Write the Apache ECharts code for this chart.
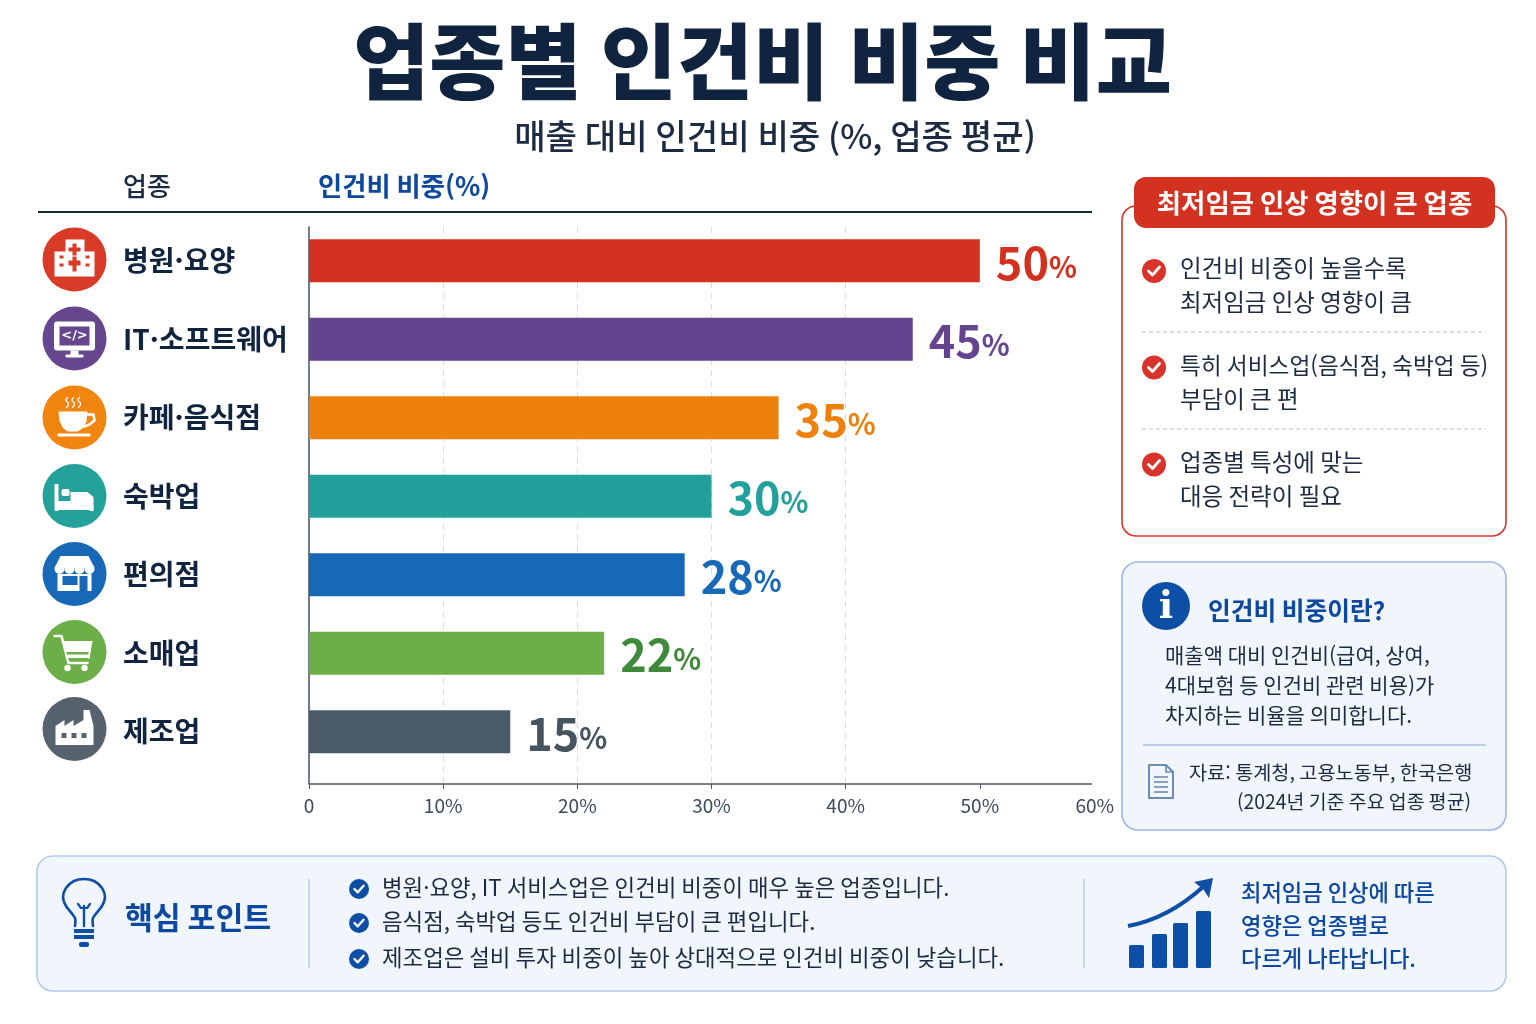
<!DOCTYPE html>
<html lang="ko">
<head>
<meta charset="utf-8">
<style>html,body{margin:0;padding:0;background:#fff}#c{width:1536px;height:1024px}</style>
<script src="https://cdn.jsdelivr.net/npm/echarts@6/dist/echarts.min.js"></script>
</head>
<body>
<div id="c"></div>
<script>
const categories = ['병원·요양', 'IT·소프트웨어', '카페·음식점', '숙박업', '편의점', '소매업', '제조업'];
const shares = [50, 45, 35, 30, 28, 22, 15];
const barColors = ['#d3311f', '#64438f', '#ee800c', '#22a09c', '#1769b8', '#6cae47', '#4a5a69'];
const labelColors = ['#d3311f', '#64438f', '#ee800c', '#22a09c', '#1769b8', '#3f8a3a', '#46545f'];
const iconColors = ['#da3a28', '#66468f', '#f0860f', '#25a19c', '#1769b8', '#6cae47', '#56636f'];
const xTicks = [0, 10, 20, 30, 40, 50, 60];
const titleText = '업종별 인건비 비중 비교';
const subtitleText = '매출 대비 인건비 비중 (%, 업종 평균)';
const redHeader = '최저임금 인상 영향이 큰 업종';
const redItems = [['인건비 비중이 높을수록', '최저임금 인상 영향이 큼'], ['특히 서비스업(음식점, 숙박업 등)', '부담이 큰 편'], ['업종별 특성에 맞는', '대응 전략이 필요']];
const infoTitle = '인건비 비중이란?';
const infoLines = ['매출액 대비 인건비(급여, 상여,', '4대보험 등 인건비 관련 비용)가', '차지하는 비율을 의미합니다.'];
const sourceLines = ['자료: 통계청, 고용노동부, 한국은행', '(2024년 기준 주요 업종 평균)'];
const keyTitle = '핵심 포인트';
const keyLines = ['병원·요양, IT 서비스업은 인건비 비중이 매우 높은 업종입니다.', '음식점, 숙박업 등도 인건비 부담이 큰 편입니다.', '제조업은 설비 투자 비중이 높아 상대적으로 인건비 비중이 낮습니다.'];
const sideLines = ['최저임금 인상에 따른', '영향은 업종별로', '다르게 나타납니다.'];
const trendBars = [23, 34, 45, 57];

const FF = '"Noto Sans CJK KR","Noto Sans",sans-serif';
const NAVY = '#10233f', BLUE = '#0c48a0', INK = '#1c2a42';
const els = [];
function T(text, x, y, size, color, weight, align, family) {
  els.push({type: 'text', x, y, silent: true, style: {text, fontSize: size, fontFamily: family || FF, fontWeight: weight || 400, fill: color, align: align || 'left', verticalAlign: 'middle'}});
}
function R(x, y, w, h, r, fill, stroke, lw) {
  els.push({type: 'rect', silent: true, shape: {x, y, width: w, height: h, r: r || 0}, style: {fill: fill || 'none', stroke: stroke || 'none', lineWidth: lw || 1}});
}
function C(cx, cy, r, fill, stroke, lw) {
  els.push({type: 'circle', silent: true, shape: {cx, cy, r}, style: {fill: fill || 'none', stroke: stroke || 'none', lineWidth: lw || 1}});
}
function L(x1, y1, x2, y2, color, lw, dash) {
  els.push({type: 'line', silent: true, shape: {x1, y1, x2, y2}, style: {stroke: color, lineWidth: lw || 1, lineDash: dash || null}});
}
function PG(pts, fill) { els.push({type: 'polygon', silent: true, shape: {points: pts}, style: {fill}}); }
function PL(pts, color, lw, smooth) { els.push({type: 'polyline', silent: true, shape: {points: pts, smooth: smooth || 0}, style: {stroke: color, lineWidth: lw, fill: 'none', lineCap: 'round', lineJoin: 'round'}}); }
function shift(cx, cy, pts) { return pts.map(p => [cx + p[0], cy + p[1]]); }
function check(cx, cy, r, color) {
  C(cx, cy, r, color);
  const k = r / 12;
  PL(shift(cx, cy, [[-5.5 * k, 0], [-1.5 * k, 4 * k], [5.5 * k, -4 * k]]), '#fff', 2.8 * k);
}

/* titles and table header */
T(titleText, 762.5, 62, 82.8, NAVY, 900, 'center');
T(subtitleText, 775, 136, 34.2, INK, 500, 'center');
T('업종', 123, 186, 26, INK, 500);
T('인건비 비중(%)', 318, 186, 26.3, BLUE, 700);
L(38, 212, 1092, 212, '#16263f', 2);
L(309, 784, 1092, 784, '#4d5a6b', 1.6);

/* category icons */
const iconY = [259.5, 338.5, 417.5, 496, 574, 652, 729];
iconY.forEach((y, i) => C(74.5, y, 32, iconColors[i]));
(function () {
  const W = '#fff';
  let x = 74.5, y = iconY[0], c = iconColors[0];
  R(x - 20, y - 8, 40, 25, 0, W); R(x - 9, y - 20, 19, 14, 0, W);
  R(x - 2, y - 16, 4, 12, 0, c); R(x - 6, y - 12, 12, 4, 0, c);
  R(x - 2, y - 3, 4, 15, 0, c); R(x - 6, y + 1, 12, 5, 0, c);
  [-15, 11].forEach(d => { R(x + d, y - 4, 4, 3, 0, c); R(x + d, y + 4, 4, 3, 0, c); });

  y = iconY[1]; c = iconColors[1];
  R(x - 20.5, y - 17, 41, 29, 3, W); R(x - 15, y - 12, 30, 19, 0, c);
  R(x - 4, y + 12, 8, 5, 0, W); R(x - 9, y + 16, 18, 3, 1, W);
  T('</>', x, y - 3, 13, W, 700, 'center', 'DejaVu Sans');

  y = iconY[2];
  PG(shift(x, y, [[-16, -6], [13, -6], [12, 4], [8, 11], [3, 14], [-7, 14], [-12, 10], [-15, 3]]), W);
  PL(shift(x, y, [[13, -3], [19, -3], [20, 3], [15, 7], [10, 9]]), W, 2.6);
  R(x - 17, y + 16, 33, 3, 1, W);
  [-7, -1, 5].forEach(d => PL(shift(x + d, y, [[0, -20], [-1.5, -17], [1, -14], [-1, -10]]), W, 1.3, 0.6));

  y = iconY[3];
  R(x - 20, y - 12, 4, 27, 1, W); R(x - 17, y + 5, 36, 9, 1, W);
  R(x + 15, y + 9, 4, 6, 0, W);
  R(x - 13, y - 7, 8, 7, 2, W);
  PG(shift(x, y, [[-4, -4], [13, -4], [19, 1], [19, 6], [-4, 6]]), W);

  y = iconY[4]; c = iconColors[4];
  R(x - 17, y, 34, 17, 0, W);
  R(x - 12, y + 2, 15, 9, 0, c);
  R(x + 5, y + 2, 8, 15, 0, c);
  PG(shift(x, y, [[-14, -18], [14, -18], [20, -6], [-20, -6]]), W);
  [-15, -5, 5, 15].forEach(d => C(x + d, y - 5, 5, W));

  y = iconY[5];
  PL(shift(x, y, [[-20, -16], [-13, -16], [-6, 11], [13, 11]]), W, 2.6);
  PG(shift(x, y, [[-11, -11], [18, -11], [15, 7], [-7, 7]]), W);
  R(x - 6, y + 6, 20, 2, 0, iconColors[5]);
  R(x - 8, y + 0, 22, 2.5, 0, iconColors[5]);
  C(x - 7, y + 16, 3.2, W); C(x + 10, y + 16, 3.2, W);

  y = iconY[6]; c = iconColors[6];
  PG(shift(x, y, [[-19, -3], [-10, -9], [-10, -3], [-1, -9], [-1, -3], [9, -9], [9, -19], [15, -19], [19, -3], [19, 16], [-19, 16]]), W);
  [-13, -3, 7].forEach(d => R(x + d, y + 4, 5, 5, 0, c));
})();

/* red panel */
R(1122, 206, 384, 330, 14, '#fff', '#d9352a', 1.6);
R(1134, 177, 361, 51, 12, '#d2321f');
T(redHeader, 1314.5, 203, 26.4, '#fff', 700, 'center');
const redY = [[268, 302], [365, 399], [462, 496]];
const redCheck = [271, 367.5, 464.5];
redItems.forEach((lines, i) => {
  check(1154, redCheck[i], 12, '#d9342b');
  lines.forEach((t, j) => T(t, 1180, redY[i][j], t.length > 16 ? 22.7 : 23.5, INK, 400));
});
L(1142, 332, 1486, 332, '#bdbdbd', 1, [4, 3]);
L(1142, 429, 1486, 429, '#bdbdbd', 1, [4, 3]);

/* info panel */
R(1122, 562, 384, 268, 16, '#f1f5fc', '#9db8e2', 1.6);
C(1166, 606, 24, '#0d4ea6');
T('i', 1166, 608, 38, '#fff', 700, 'center', '"DejaVu Serif"');
T(infoTitle, 1208, 611, 24.7, BLUE, 700);
[655, 685, 715].forEach((y, i) => T(infoLines[i], 1165, y, 21, INK, 400));
L(1143, 745, 1486, 745, '#a9c1e6', 1.4);
PL([[1150, 765], [1166, 765], [1173, 772], [1173, 798], [1149, 798], [1149, 765]], '#6d8ab0', 2);
PL([[1166, 765], [1166, 772], [1173, 772]], '#6d8ab0', 1.6);
[777, 782, 787, 792].forEach(y => L(1154, y, 1168, y, '#6d8ab0', 1.6));
T(sourceLines[0], 1189, 773, 19.7, INK, 400);
T(sourceLines[1], 1237, 802, 19.4, INK, 400);

/* bottom panel */
R(37, 856, 1469, 135, 16, '#f1f5fc', '#b4c9ea', 1.6);
PL([[75, 926], [75, 918], [66, 906], [63, 897], [66, 888], [74, 881], [84, 879], [94, 881], [102, 888], [105, 897], [102, 906], [93, 918], [93, 926]], '#0d4ea6', 2.6, 0.25);
PL([[84, 926], [84, 906]], '#0d4ea6', 2.4);
PL([[78, 904], [81, 908], [87, 908], [90, 904]], '#0d4ea6', 2.2);
R(74, 929, 20, 4, 0, '#0d4ea6'); R(74, 935, 20, 4, 0, '#0d4ea6');
R(79, 942, 10, 5, 2, '#0d4ea6');
T(keyTitle, 125, 917, 30.3, BLUE, 700);
L(309, 879, 309, 968, '#b4c9ea', 1.4);
L(1084, 879, 1084, 968, '#b4c9ea', 1.4);
[888, 922, 958].forEach((y, i) => { check(359, y + 1, 10, '#0d4ea6'); T(keyLines[i], 382, y, 22.36, INK, 400); });
const trendX = [1129, 1152, 1173, 1196];
trendBars.forEach((h, i) => R(trendX[i], 968 - h, 15, h, 1.5, '#0d4ea6'));
els.push({type: 'bezierCurve', silent: true, shape: {x1: 1128, y1: 926, cpx1: 1155, cpy1: 921, cpx2: 1180, cpy2: 908, x2: 1204, y2: 886}, style: {stroke: '#0d4ea6', lineWidth: 4, fill: 'none'}});
PG([[1213, 878], [1209, 898], [1203, 889], [1194, 882]], '#0d4ea6');
[893, 926, 959].forEach((y, i) => T(sideLines[i], 1241, y, 22.2, BLUE, 500));

const rich = {};
const seriesData = shares.map((v, i) => {
  rich['n' + i] = {fontSize: 45, fontWeight: 700, color: labelColors[i], fontFamily: FF};
  rich['p' + i] = {fontSize: 29, fontWeight: 700, color: labelColors[i], fontFamily: FF, padding: [8, 0, 0, 0]};
  return {value: v, itemStyle: {color: barColors[i]}};
});

const option = {
  backgroundColor: '#fff',
  animation: false,
  grid: [
    {left: 309, top: 227, width: 805, height: 557},
    {left: 309, top: 221.5, width: 805, height: 549.5}
  ],
  xAxis: [
    {
      gridIndex: 0, type: 'value', min: 0, max: 60, interval: 10,
      axisLine: {show: false},
      axisTick: {show: true, length: 5, customValues: xTicks.slice(0, 6), lineStyle: {color: '#4d5a6b'}},
      axisLabel: {
        margin: 12, fontSize: 19, color: '#3c4a5e', fontFamily: FF, alignMaxLabel: 'right',
        formatter: v => v === 0 ? '0' : v + '%'
      },
      splitLine: {show: true, showMinLine: false, showMaxLine: false, lineStyle: {color: '#dcdcdc', type: [6, 5], width: 1}}
    },
    {gridIndex: 1, type: 'value', min: 0, max: 60, interval: 10, show: false}
  ],
  yAxis: [
    {
      gridIndex: 0, type: 'value', min: 0, max: 1, interval: 1,
      axisLine: {show: true, lineStyle: {color: '#4d5a6b', width: 1.6}},
      axisTick: {show: false}, axisLabel: {show: false}, splitLine: {show: false}
    },
    {
      gridIndex: 1, type: 'category', data: categories, inverse: true,
      axisLine: {show: false}, axisTick: {show: false}, splitLine: {show: false},
      axisLabel: {margin: 186, align: 'left', fontSize: 28, fontWeight: 700, color: NAVY, fontFamily: FF, interval: 0}
    }
  ],
  series: [{
    type: 'bar', xAxisIndex: 1, yAxisIndex: 1, barWidth: 43, z: 3,
    data: seriesData,
    label: {
      show: true, position: 'right', distance: 16, offset: [0, 2], rich,
      formatter: p => '{n' + p.dataIndex + '|' + p.value + '}{p' + p.dataIndex + '|%}'
    }
  }],
  graphic: {elements: els}
};
const chart = echarts.init(document.getElementById('c'), null, {renderer: 'canvas'});
chart.setOption(option);
</script>
</body>
</html>
